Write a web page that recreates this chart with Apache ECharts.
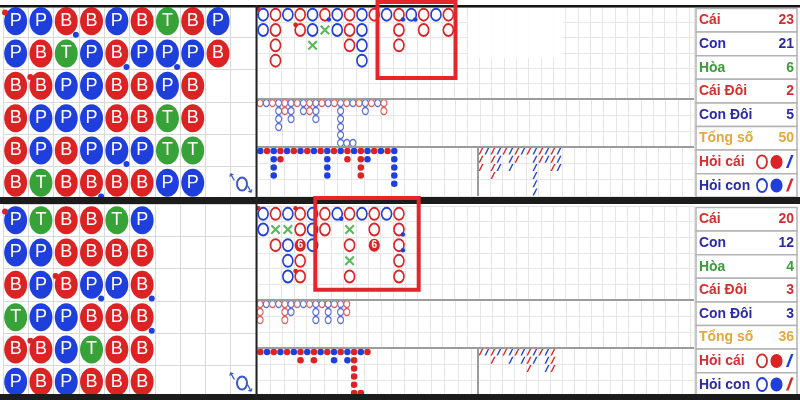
<!DOCTYPE html>
<html><head><meta charset="utf-8">
<script src="https://cdn.jsdelivr.net/npm/echarts/dist/echarts.min.js"></script>
<style>html,body{margin:0;padding:0;background:#fff}#c{width:800px;height:400px}</style>
</head><body><div id="c"></div>
<script>
// ---------------- DATA ----------------
// Bead plate: each string is one column, read top to bottom (B = Cái, P = Con, T = Hòa)
const beadTop = ['PPBBBB','PBBPPT','BTPPBB','BPPPPB','PBBBPB','BPBBPB','TPPTTP','BPBBTP','PB'];
const beadBottom = ['PPBTBP','TPPPBB','BBBPPP','BBPBTB','TBPBBB','PBBBBB'];
// pair markers [column,row]
const beadTopBankerPairs = [[0,0],[1,2]];
const beadTopPlayerPairs = [[2,0],[4,1],[6,1],[4,4],[3,5]];
const beadBottomBankerPairs = [[0,0],[2,2],[1,4]];
const beadBottomPlayerPairs = [[3,2],[5,2],[5,3]];
// Big road columns: B red ring, P blue ring, X tie cross, 6 red disc with 6
const bigRoadTop = ['PP','BBBB','P','BB','PPX','BX','PP','BBB','PPPP','B','P','BBB','P','BB','P','BB'];
const bigRoadBottom = ['PP','BXB','PXPPP','BB6BB','PPP','BB','P','BXBXB','P','BB6','P','BBBBB'];
const bigRoadTopBankerPairs = [[0,0],[3,1]];
const bigRoadTopPlayerPairs = [[5,0],[11,0],[12,0]];
const bigRoadBottomBankerPairs = [[0,0],[3,0],[3,4]];
const bigRoadBottomPlayerPairs = [[6,0],[11,1],[11,2]];
// Derived roads (R red, B blue, . empty)
const bigEyeTop = ['R','B','R','BBBB','RR','BBB','R','BB','RR','BBB','R','B','R','BBBBBB','R....B','B....B','R','BB','R','B','RR'];
const smallTop = ['B','R','BBBB','RR','B','R','B','R','B','R','BBBB','R','B','RR','B','RRRR','BB','R','B','R','BBBBB'];
const roachTop = ['RRR','B','RRRR','BBB','R','BBB','RR','B','R','BBBBBB','RR','BB','RRR','BBB'];
const bigEyeBottom = ['RRR','B','R','B','RRR','BB','R','B','R','BBB','R','BBB','R','BBB','RR'];
const smallBottom = ['R','B','R','B','R','B','RR','B','RR','B','R','BB','R','BB','RRRRRR','B....R','R'];
const roachBottom = ['R','B','RR','B','R','BB','R','BB','RRR','BB','R','BBB','RRR'];
// Statistics panel
const statLabels = ['Cái','Con','Hòa','Cái Đôi','Con Đôi','Tổng số','Hỏi cái','Hỏi con'];
const statsTop = [23,21,6,2,5,50];
const statsBottom = [20,12,4,3,3,36];

// ---------------- BUILD ----------------
const RED='#dc2323', BLUE='#1f3fdc', GREEN='#37a237';
const ELL='path://M50,0C77.6,0,100,22.4,100,50C100,77.6,77.6,100,50,100C22.4,100,0,77.6,0,50C0,22.4,22.4,0,50,0Z';
const SLASH='path://M0,100L70,0L100,0L30,100Z';
const CROSS='path://M0,15L15,0L50,35L85,0L100,15L65,50L100,85L85,100L50,65L15,100L0,85L35,50Z';
const grids=[], xAxes=[], yAxes=[], series=[], G=[];

function addGrid(left,top,width,height,cols,rows,sx,sy,lc){
  const i=grids.length;
  grids.push({left,top,width,height,show:false,containLabel:false,outerBoundsMode:'none'});
  const ax={type:'value',gridIndex:i,min:0,axisLine:{show:false},axisTick:{show:false},axisLabel:{show:false},
    splitLine:{show:true,lineStyle:{color:lc,width:1}}};
  xAxes.push(Object.assign({},ax,{max:cols,interval:sx}));
  yAxes.push(Object.assign({},ax,{max:rows,interval:sy,inverse:true}));
  return i;
}
function addScatter(gi,data,opt){
  opt.itemStyle=Object.assign({opacity:1},opt.itemStyle||{});
  series.push(Object.assign({type:'scatter',xAxisIndex:gi,yAxisIndex:gi,data,silent:true,animation:false},opt));
}
function beadSeries(gi,cols,bp,pp){
  const col={B:RED,P:BLUE,T:GREEN}, d=[];
  cols.forEach((s,c)=>{for(let r=0;r<s.length;r++){d.push({value:[c+0.5,r+0.5],name:s[r],itemStyle:{color:col[s[r]]}});}});
  addScatter(gi,d,{symbol:ELL,symbolSize:[23,28],z:2,
    label:{show:true,position:'inside',formatter:p=>p.name,color:'#fff',fontSize:18,fontFamily:'"Liberation Sans", Arial, sans-serif'}});
  addScatter(gi,bp.map(([c,r])=>[c+0.08,r+0.23]),{symbol:'circle',symbolSize:6,z:3,itemStyle:{color:RED}});
  addScatter(gi,pp.map(([c,r])=>[c+0.88,r+0.92]),{symbol:'circle',symbolSize:6,z:3,itemStyle:{color:BLUE}});
}
function bigRoadSeries(gi,cols,bp,pp){
  const ring=[],cross=[],six=[];
  cols.forEach((s,c)=>{for(let r=0;r<s.length;r++){const ch=s[r],v=[c+0.5,r+0.5];
    if(ch==='B')ring.push({value:v,itemStyle:{borderColor:RED}});
    else if(ch==='P')ring.push({value:v,itemStyle:{borderColor:BLUE}});
    else if(ch==='X')cross.push(v); else if(ch==='6')six.push(v);}});
  addScatter(gi,ring,{symbol:ELL,symbolSize:[10,12],z:2,itemStyle:{color:'#fff',borderWidth:1.8}});
  addScatter(gi,cross,{symbol:CROSS,symbolSize:[10,10],z:2,itemStyle:{color:'#5cb85c'}});
  addScatter(gi,six,{symbol:ELL,symbolSize:[11,13],z:2,itemStyle:{color:RED},
    label:{show:true,position:'inside',formatter:'6',color:'#fff',fontSize:10,fontWeight:'bold'}});
  addScatter(gi,bp.map(([c,r])=>[c+0.12,r+0.15]),{symbol:'circle',symbolSize:4.5,z:3,itemStyle:{color:RED}});
  addScatter(gi,pp.map(([c,r])=>[c+0.82,r+0.82]),{symbol:'circle',symbolSize:4.5,z:3,itemStyle:{color:BLUE}});
}
function roadSeries(gi,cols,kind){
  const d=[];
  cols.forEach((s,c)=>{for(let r=0;r<s.length;r++){const ch=s[r];if(ch!=='R'&&ch!=='B')continue;
    const clr=ch==='R'?(kind==='eye'?'#e0605c':RED):(kind==='eye'?'#5a70d8':BLUE);
    d.push({value:[c+0.5,r+0.5],itemStyle:kind==='eye'?{borderColor:clr}:{color:clr}});}});
  if(kind==='eye')addScatter(gi,d,{symbol:ELL,symbolSize:[6,7],z:2,itemStyle:{color:'#fff',borderWidth:1.2}});
  else if(kind==='small')addScatter(gi,d,{symbol:'circle',symbolSize:6.5,z:2});
  else addScatter(gi,d,{symbol:SLASH,symbolSize:[5,7],z:2});
}

function panel(y0,h,bead,bbp,bpp,big,rbp,rpp,eye,small,roach,stats){
  const gB=addGrid(3,y0,253,h,10,6,1,1,'#d9d9d9');
  beadSeries(gB,bead,bbp,bpp);
  const bigH=y0<100?92:94;
  const gR=addGrid(257,y0+2,437,bigH,35.4,6,1,1,'#e6e6e6');
  bigRoadSeries(gR,big,rbp,rpp);
  const eyeTop=y0+2+bigH, eyeH=48;
  const gE=addGrid(257,eyeTop,437,eyeH,70.6,6,2,2,'#e6e6e6');
  roadSeries(gE,eye,'eye');
  const sTop=eyeTop+eyeH, sH=49;
  const gS=addGrid(257,sTop,221,sH,33,6,2,2,'#e6e6e6');
  roadSeries(gS,small,'small');
  const gC=addGrid(478,sTop,216,sH,36,6,2,2,'#e6e6e6');
  roadSeries(gC,roach,'roach');
  // separators
  G.push({type:'rect',shape:{x:257,y:eyeTop-1,width:437,height:2},style:{fill:'#9c9c9c'},z:8,silent:true});
  G.push({type:'rect',shape:{x:257,y:sTop-1,width:437,height:2},style:{fill:'#9c9c9c'},z:8,silent:true});
  G.push({type:'rect',shape:{x:477,y:sTop,width:2,height:sH},style:{fill:'#9c9c9c'},z:8,silent:true});
  // swap icon
  const ix=241, iy=y0+178;
  G.push({type:'ellipse',shape:{cx:ix+1,cy:iy+1,rx:5,ry:6.5},style:{fill:'none',stroke:'#3a58cc',lineWidth:2},z:9,silent:true});
  G.push({type:'text',x:233,y:iy-5,style:{text:'↑',fill:'#3a58cc',font:'bold 11px "DejaVu Sans"',align:'center',verticalAlign:'middle'},rotation:0.5,z:9,silent:true});
  G.push({type:'text',x:250,y:iy+7,style:{text:'↓',fill:'#3a58cc',font:'bold 11px "DejaVu Sans"',align:'center',verticalAlign:'middle'},rotation:0.5,z:9,silent:true});
  // stats
  const colors=['#d42f2f','#2b2ba6','#3b9c3b','#d42f2f','#2b2ba6','#e6a63a','#d42f2f','#2b2ba6'];
  const top=y0+3.5, rh=23.6;
  const FONT='bold 15px "Liberation Sans", Arial, sans-serif';
  statLabels.forEach((lab,i)=>{
    const y=top+rh*i, cy=y+rh/2;
    G.push({type:'rect',shape:{x:696,y,width:101,height:rh},style:{fill:'#fff',stroke:'#b3b3b3',lineWidth:1.5},z:5,silent:true});
    G.push({type:'text',x:699,y:cy,scaleX:0.93,style:{text:lab,fill:colors[i],font:FONT,align:'left',verticalAlign:'middle'},z:6,silent:true});
    if(i<6){
      G.push({type:'text',x:794,y:cy,scaleX:0.93,style:{text:String(stats[i]),fill:colors[i],font:FONT,align:'right',verticalAlign:'middle'},z:6,silent:true});
    } else {
      const main=i===6?RED:BLUE, other=i===6?BLUE:RED;
      G.push({type:'ellipse',shape:{cx:762,cy,rx:5,ry:6.5},style:{fill:'#fff',stroke:main,lineWidth:1.8},z:6,silent:true});
      G.push({type:'ellipse',shape:{cx:776.5,cy,rx:6,ry:7},style:{fill:main},z:6,silent:true});
      G.push({type:'polygon',shape:{points:[[786,cy+6],[791,cy-7],[793.5,cy-7],[788.5,cy+6]]},style:{fill:other},z:6,silent:true});
    }
  });
}

panel(5,194,beadTop,beadTopBankerPairs,beadTopPlayerPairs,bigRoadTop,bigRoadTopBankerPairs,bigRoadTopPlayerPairs,bigEyeTop,smallTop,roachTop,statsTop);
panel(204,194,beadBottom,beadBottomBankerPairs,beadBottomPlayerPairs,bigRoadBottom,bigRoadBottomBankerPairs,bigRoadBottomPlayerPairs,bigEyeBottom,smallBottom,roachBottom,statsBottom);

// blank patch in the top big road
G.push({type:'rect',shape:{x:468,y:8,width:95,height:50},style:{fill:'rgba(255,255,255,0.92)'},z:1,silent:true});
// frame lines
G.push({type:'rect',shape:{x:0,y:5,width:800,height:2.5},style:{fill:'#151515'},z:10,silent:true});
G.push({type:'rect',shape:{x:0,y:197,width:800,height:7},style:{fill:'#1c1c1c'},z:10,silent:true});
G.push({type:'rect',shape:{x:0,y:394,width:800,height:6},style:{fill:'#1c1c1c'},z:10,silent:true});
G.push({type:'rect',shape:{x:255.5,y:5,width:2,height:395},style:{fill:'#222'},z:10,silent:true});
// highlight boxes
G.push({type:'rect',shape:{x:377.5,y:2,width:78,height:76},style:{fill:'none',stroke:'#e3252c',lineWidth:4},z:20,silent:true});
G.push({type:'rect',shape:{x:315.3,y:198,width:103.4,height:91.7},style:{fill:'none',stroke:'#e3252c',lineWidth:4},z:20,silent:true});

const chart=echarts.init(document.getElementById('c'),null,{renderer:'canvas'});
chart.setOption({animation:false,backgroundColor:'#fff',grid:grids,xAxis:xAxes,yAxis:yAxes,series,graphic:{elements:G}});
</script></body></html>
